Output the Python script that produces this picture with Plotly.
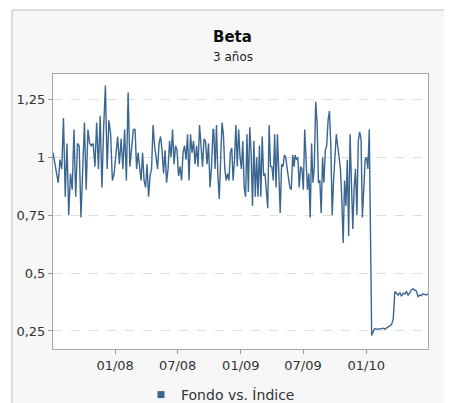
import pandas as pd
import plotly.graph_objects as go

# ---- data ----
seg1_period = ("2007-07-04", "2008-02-23")
seg1_beta = [1.02, 0.97, 0.92, 0.89, 0.99, 0.95, 1.17, 0.83, 1.06, 0.75, 0.93, 0.86, 1.12, 0.83,
             1.06, 1.05, 0.74, 0.99, 1.15, 0.86, 1.12, 1.06, 1.05, 1.06, 0.96, 1.15, 0.95, 1.18,
             0.87, 1.13, 1.31, 0.95, 1.16, 1.10, 0.90, 0.93, 1.02, 1.09, 0.97, 1.08, 0.95, 1.12,
             0.90, 1.28, 0.96, 1.06, 1.12]

seg2_period = ("2008-02-28", "2008-10-12")
seg2_beta = [1.12, 0.95, 1.02, 0.95, 0.90, 1.02, 0.90, 0.87, 0.97, 0.83, 0.92, 0.95, 1.14, 1.05,
             1.00, 0.95, 1.06, 1.09, 1.03, 0.93, 1.03, 0.89, 0.95, 1.07, 1.00, 1.12, 0.97, 1.05,
             1.03, 0.92, 0.96, 0.90, 1.02, 1.05, 0.99, 1.10, 0.90, 1.10, 1.02, 1.07, 0.97, 1.05,
             0.96, 1.14, 1.05, 0.96, 1.08, 1.07, 0.97, 1.06, 0.87, 0.96, 1.12]

seg3_period = ("2008-10-14", "2009-06-05")
seg3_beta = [1.12, 0.95, 1.14, 0.92, 0.82, 0.99, 1.15, 1.10, 0.95, 0.90, 0.93, 0.90, 1.02, 1.04,
             0.90, 0.99, 1.14, 0.96, 1.12, 1.00, 0.95, 1.07, 0.87, 0.83, 1.10, 0.85, 1.13, 1.02,
             0.79, 1.07, 0.83, 1.00, 0.83, 1.05, 0.83, 1.09, 0.92, 0.93, 0.87, 0.78, 1.14, 0.96,
             0.96, 0.90, 1.10, 0.87, 1.10, 0.95, 0.76, 0.97, 0.96, 1.01, 1.00, 0.95, 0.90, 0.87,
             0.86, 1.01, 0.96]

seg4_period = ("2009-06-08", "2010-01-10")
seg4_beta = [1.01, 0.99, 1.00, 0.87, 0.96, 0.95, 0.86, 1.12, 0.96, 0.86, 0.93, 0.74, 1.06, 0.89,
             0.96, 1.24, 1.15, 0.89, 0.90, 0.76, 1.00, 0.89, 1.03, 1.05, 1.16, 1.20, 1.05, 0.75,
             0.90, 1.03, 1.10, 1.05, 0.99, 0.95, 0.82, 0.63, 0.90, 0.79, 0.99, 0.66, 1.10, 0.90,
             0.69, 0.87, 0.95, 0.75, 1.07, 1.11, 1.08, 0.74, 0.90, 0.99, 1.00, 0.95, 1.12]

seg5_period = ("2010-01-17", "2010-06-30")
seg5_beta = [0.23, 0.25, 0.26, 0.257, 0.26, 0.258, 0.26, 0.262, 0.258, 0.265, 0.268, 0.272,
             0.278, 0.30, 0.42, 0.413, 0.405, 0.415, 0.40, 0.412, 0.41, 0.42, 0.405, 0.415,
             0.428, 0.432, 0.425, 0.422, 0.398, 0.405, 0.402, 0.41, 0.408, 0.405, 0.41]

series_name = "Fondo vs. Índice"
title_text = "Beta"
subtitle_text = "3 años"
x_range = ["2007-07-04", "2010-06-30"]

# ---- build series ----
segments = [(seg1_period, seg1_beta), (seg2_period, seg2_beta), (seg3_period, seg3_beta),
            (seg4_period, seg4_beta), (seg5_period, seg5_beta)]
dates, values = [], []
for (start, end), vals in segments:
    dates.extend(pd.date_range(start, end, periods=len(vals)))
    values.extend(vals)

LINE = "#3a6691"
FONT = "DejaVu Sans"

fig = go.Figure()
fig.add_trace(go.Scatter(x=dates, y=values, mode="lines", name=series_name,
                         line=dict(color=LINE, width=1.4), showlegend=False,
                         hoverinfo="x+y"))
# legend entry with square symbol
fig.add_trace(go.Scatter(x=[None], y=[None], mode="markers", name=series_name,
                         marker=dict(symbol="square", color=LINE, size=7),
                         showlegend=True))

# page body adds an 8px offset; design coordinates are window pixels
OFF = 8
WIN_W, WIN_H = 452, 403
W, H = WIN_W - OFF, WIN_H - OFF
PL, PR, PT, PB = 53, 428, 74, 349          # plot area in window pixels
L, R, T, B = PL - OFF, WIN_W - PR, PT - OFF, WIN_H - PB
pw, ph = PR - PL, PB - PT

def px_x(p):
    return (p - PL) / pw

def px_y(p):
    return (PB - p) / ph

fig.update_layout(
    width=W, height=H,
    margin=dict(l=L, r=R, t=T, b=B, pad=0, autoexpand=False),
    paper_bgcolor="#f7f7f7",
    plot_bgcolor="white",
    separators=",.",
    font=dict(family=FONT, size=13, color="#333333"),
    showlegend=True,
    legend=dict(orientation="h", x=px_x(141), xanchor="left", y=px_y(395), yanchor="middle",
                bgcolor="rgba(0,0,0,0)", font=dict(family=FONT, size=14, color="#333333"),
                itemwidth=30),
    xaxis=dict(type="date", range=x_range, tickformat="%m/%y", dtick="M6", tick0="2008-01-01",
               ticks="outside", ticklen=4, tickcolor="#999999", showgrid=False,
               showline=True, linecolor="#a6a6a6", linewidth=1, mirror=True, zeroline=False,
               tickfont=dict(family=FONT, size=13, color="#333333")),
    yaxis=dict(range=[0.172, 1.36], tick0=0.25, dtick=0.25, ticks="outside", ticklen=4,
               tickcolor="#999999", showgrid=True, gridcolor="#dddddd", griddash="dash",
               gridwidth=1, showline=True, linecolor="#a6a6a6", linewidth=1, mirror=True,
               zeroline=False, tickfont=dict(family=FONT, size=13, color="#333333")),
    annotations=[
        dict(text="<b>" + title_text + "</b>", xref="paper", yref="paper", x=px_x(232.5),
             y=px_y(37), xanchor="center", yanchor="middle", showarrow=False,
             font=dict(family=FONT, size=15, color="#111111")),
        dict(text=subtitle_text, xref="paper", yref="paper", x=px_x(232.5), y=px_y(57),
             xanchor="center", yanchor="middle", showarrow=False,
             font=dict(family=FONT, size=12, color="#222222")),
    ],
    shapes=[
        dict(type="rect", xref="paper", yref="paper", x0=px_x(0), x1=px_x(12), y0=px_y(WIN_H + 5),
             y1=px_y(0), fillcolor="white", line=dict(width=0), layer="below"),
        dict(type="rect", xref="paper", yref="paper", x0=px_x(0), x1=px_x(WIN_W + 5), y0=px_y(10),
             y1=px_y(0), fillcolor="white", line=dict(width=0), layer="below"),
        dict(type="line", xref="paper", yref="paper", x0=px_x(12), x1=px_x(12), y0=px_y(10),
             y1=px_y(WIN_H + 5), line=dict(color="#bdbdbd", width=1), layer="below"),
        dict(type="line", xref="paper", yref="paper", x0=px_x(12), x1=px_x(WIN_W + 5), y0=px_y(10),
             y1=px_y(10), line=dict(color="#bdbdbd", width=1), layer="below"),
    ],
)

fig.write_html("out.html")
